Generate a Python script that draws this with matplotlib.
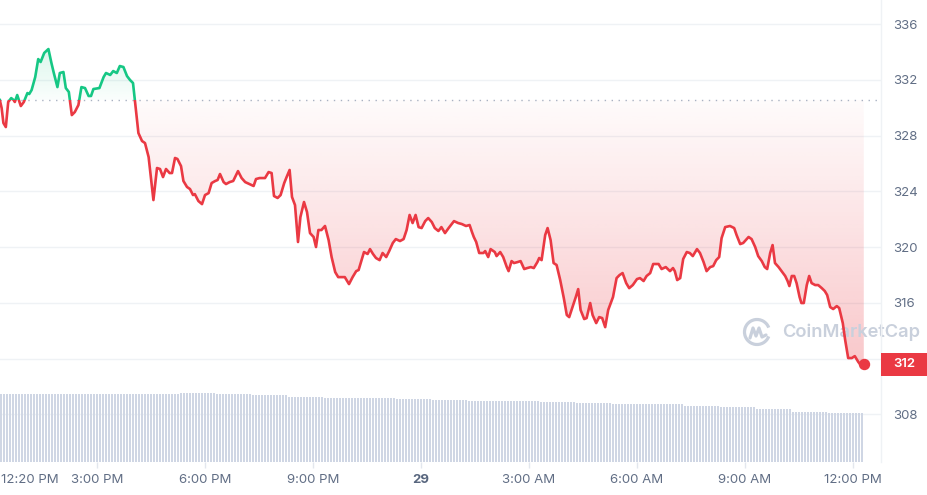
import numpy as np
import matplotlib
matplotlib.use("Agg")
import matplotlib.pyplot as plt
from matplotlib.path import Path
from matplotlib.patches import Rectangle, Arc, PathPatch
from matplotlib.transforms import blended_transform_factory
from matplotlib.colors import to_rgb
from matplotlib.lines import Line2D

plt.rcParams['font.family'] = ['Inter', 'DejaVu Sans']

# ---------------- data ----------------
# minutes since 12:00 PM (day 28)
times_min = [
    18, 21, 24, 28, 32, 37, 41, 43, 47, 53, 58, 64, 67, 71, 77, 82, 86, 92, 99, 104,
    108, 114, 118, 124, 128, 133, 138, 143, 149, 154, 160, 166, 170, 174, 184, 191, 195, 202, 207, 213,
    218, 224, 230, 235, 240, 243, 249, 255, 260,
    266, 274, 280, 285, 290, 295, 301, 305, 310, 314, 320, 324, 330, 335, 340, 343, 349, 355, 360, 366,
    371, 377, 381, 385, 391, 395, 401, 407, 415, 421, 427, 434, 441, 445, 451, 460, 466, 471, 475, 481,
    486, 492, 496, 501, 505, 510,
    515, 519, 525, 530, 535, 541, 545, 549, 554, 560, 566, 571, 577, 582, 593, 600, 606, 612, 616, 621,
    625, 631, 635, 640, 645, 651, 656, 662, 667, 673, 678, 685, 691, 696, 701, 706, 711, 716, 721, 727,
    732, 738, 743, 749, 754, 760,
    766, 775, 782, 788, 795, 801, 805, 808, 812, 817, 824, 827, 832, 836, 843, 846, 852, 857, 863, 866,
    871, 875, 881, 886, 892, 897, 903, 908, 914, 917, 921, 927, 931, 936, 941, 946, 952, 958, 963, 967,
    973, 978, 982, 986, 992, 996, 1002, 1006, 1012,
    1017, 1022, 1027, 1032, 1040, 1046, 1051, 1056, 1062, 1067, 1073, 1080, 1085, 1091, 1096, 1102, 1107, 1116, 1121, 1128,
    1135, 1140, 1143, 1147, 1152, 1157, 1163, 1168, 1173, 1180, 1185, 1191, 1196, 1202, 1207, 1212, 1217, 1221, 1227, 1235,
    1242, 1246, 1252, 1257,
    1266, 1271, 1277, 1282, 1288, 1293, 1297, 1302, 1306, 1310, 1316, 1321, 1327, 1331, 1334, 1338, 1342, 1346, 1351, 1354,
    1358, 1363, 1367, 1371, 1377, 1382, 1388, 1393, 1397, 1402, 1407, 1413, 1417, 1423, 1427, 1432, 1438, 1443, 1449, 1453,
    1458,
]
prices = [
    330.56, 329.99, 328.91, 328.62, 330.42, 330.70, 330.56, 330.42, 330.92, 330.13, 330.42, 331.06, 330.99, 331.28, 332.21, 333.50, 333.29, 333.94, 334.22, 333.22,
    332.50, 331.49, 332.50, 332.57, 331.42, 331.14, 329.48, 329.70, 330.20, 331.49, 331.42, 330.85, 330.85, 331.35, 331.42, 332.21, 332.50, 332.36, 332.64, 332.50,
    333.00, 332.93, 332.28, 332.00, 331.78, 330.56, 328.19, 327.62, 327.47,
    326.47, 323.38, 325.68, 325.61, 325.03, 325.61, 325.32, 325.32, 326.40, 326.33, 325.82, 324.75, 324.32, 324.17, 323.74, 323.81, 323.31, 323.09, 323.74, 323.88,
    324.60, 324.75, 324.82, 325.25, 324.67, 324.53, 324.67, 324.75, 325.46, 324.96, 324.67, 324.53, 324.39, 324.89, 324.96, 324.96, 325.39, 325.32, 323.67, 323.53,
    323.74, 324.60, 325.03, 325.54, 323.60, 323.02,
    320.37, 322.16, 323.24, 322.52, 321.01, 320.73, 320.01, 321.23, 321.23, 321.52, 320.51, 319.29, 318.21, 317.85, 317.85, 317.35, 317.85, 318.28, 318.36, 319.07,
    319.65, 319.51, 319.86, 319.51, 319.22, 319.07, 319.58, 319.29, 319.72, 320.30, 320.58, 320.44, 320.58, 321.23, 322.31, 321.73, 322.31, 321.44, 321.37, 321.87,
    322.09, 321.80, 321.37, 321.16, 321.44, 321.01,
    321.37, 321.87, 321.73, 321.66, 321.52, 321.59, 321.08, 320.73, 320.37, 319.58, 319.58, 319.72, 319.29, 319.86, 319.65, 319.36, 319.65, 319.29, 318.57, 318.28,
    319.00, 318.86, 318.93, 319.00, 318.43, 318.50, 318.57, 318.50, 318.93, 319.22, 319.07, 320.87, 321.37, 320.51, 318.86, 318.72, 317.64, 316.35, 315.13, 314.98,
    315.77, 316.42, 316.99, 315.49, 314.84, 314.91, 315.99, 315.13, 314.55,
    314.98, 314.91, 314.26, 315.49, 316.42, 317.78, 318.00, 318.14, 317.42, 317.06, 317.28, 317.71, 317.78, 317.57, 317.93, 318.14, 318.79, 318.79, 318.43, 318.57,
    318.28, 318.50, 318.28, 317.64, 317.78, 319.15, 319.65, 319.58, 319.36, 319.86, 319.58, 318.93, 318.28, 318.57, 318.64, 319.07, 319.29, 320.65, 321.44, 321.52,
    321.37, 320.87, 320.22, 320.30,
    320.73, 320.58, 320.01, 319.36, 319.00, 318.57, 318.43, 319.58, 320.15, 318.86, 318.57, 318.28, 317.93, 317.57, 317.21, 317.93, 317.93, 317.42, 316.42, 315.99,
    315.99, 317.28, 317.93, 317.42, 317.28, 317.28, 317.06, 316.85, 316.56, 315.70, 315.56, 315.77, 315.63, 314.55, 313.33, 312.04, 312.04, 312.18, 311.75, 311.54,
    311.61,
]
# relative trading volume, one reading per hour (bars every 5 minutes)
volume_hourly = [67.7, 68.0, 68.0, 68.0, 68.5, 69.0, 68.5, 67.5, 65.3, 64.5, 63.7, 63.0,
                 62.3, 61.5, 60.8, 60.0, 59.2, 58.0, 57.7, 56.5, 55.5, 52.8, 50.5, 49.3]
bar_minutes = np.arange(len(volume_hourly) * 12) * 5 + 20.5

y_ticks = [308, 312, 316, 320, 324, 328, 332, 336]
x_tick_pos = [20, 180, 360, 540, 720, 900, 1080, 1260, 1440]
x_tick_labels = ["12:20 PM", "3:00 PM", "6:00 PM", "9:00 PM", "29", "3:00 AM", "6:00 AM", "9:00 AM", "12:00 PM"]

# ---------------- style ----------------
GREEN = "#16c784"
RED = "#ea3943"
GRID = "#eff2f5"
LABEL = "#616e85"
VOLC = "#cfd6e4"

W, H = 928, 495
PR, PB = 881, 462  # plot right / bottom in px
fig = plt.figure(figsize=(W / 100, H / 100), dpi=100)
rect = [0, 1 - PB / H, PR / W, PB / H]
ax = fig.add_axes(rect)
ax_vol = fig.add_axes(rect)
ax_vol.patch.set_visible(False)
ax_vol.set_axis_off()

t = np.array(times_min, float)
p = np.array(prices, float)
ref = prices[0]
XMIN, XMAX = 18.3, 1486.7
YMIN, YMAX = 304.58, 337.74


def gradient_fill(above, color, a_near, a_far):
    if above:
        coll = ax.fill_between(t, p, ref, where=p >= ref, interpolate=True,
                               facecolor="none", edgecolor="none")
        y0, y1 = ref, p.max()
    else:
        coll = ax.fill_between(t, p, ref, where=p <= ref, interpolate=True,
                               facecolor="none", edgecolor="none")
        y0, y1 = p.min(), ref
    clip = Path.make_compound_path(*coll.get_paths())
    n = 256
    img = np.zeros((n, 2, 4))
    img[..., :3] = to_rgb(color)
    if above:
        a = np.linspace(a_near, a_far, n)
    else:
        a = np.linspace(a_far, a_near, n)
    img[..., 3] = a[:, None]
    im = ax.imshow(img, extent=[t[0], t[-1], y0, y1], origin="lower", aspect="auto",
                   zorder=1, interpolation="bilinear")
    im.set_clip_path(PathPatch(clip, transform=ax.transData))


gradient_fill(True, GREEN, 0.02, 0.15)
gradient_fill(False, RED, 0.02, 0.28)

# reference dotted line
ax.axhline(ref, color="#a9b2c2", lw=1.0, ls=(0, (1, 4)), zorder=3)

# price line, green above reference / red below
clip_above = Rectangle((XMIN - 500, ref), 3000, 100, transform=ax.transData)
clip_below = Rectangle((XMIN - 500, ref - 100), 3000, 100, transform=ax.transData)
lg, = ax.plot(t, p, color=GREEN, lw=1.9, zorder=4, solid_joinstyle="round")
lg.set_clip_path(clip_above)
lr, = ax.plot(t, p, color=RED, lw=1.9, zorder=4, solid_joinstyle="round")
lr.set_clip_path(clip_below)
ax.plot([t[-1]], [p[-1]], "o", color=RED, ms=7.2, zorder=5, clip_on=False)

ax.set_xlim(XMIN, XMAX)
ax.set_ylim(YMIN, YMAX)

# volume bars
vol = np.repeat(volume_hourly, 12)
ax_vol.bar(bar_minutes, vol, width=3.4, color=VOLC, linewidth=0)
ax_vol.set_xlim(XMIN, XMAX)
ax_vol.set_ylim(0, PB)

# axes styling
for s in ["top", "left", "bottom"]:
    ax.spines[s].set_visible(False)
ax.spines["right"].set_color(GRID)
ax.spines["right"].set_linewidth(1.0)
ax.yaxis.tick_right()
ax.set_yticks(y_ticks)
# the 312 label sits under the current-price badge, so it is not shown
ax.set_yticklabels(["" if v == 312 else str(v) for v in y_ticks])
ax.tick_params(axis="y", length=0, pad=8.6, labelcolor=LABEL, labelsize=9.5)
ax.grid(axis="y", color=GRID, lw=1.0, zorder=0)
ax.set_axisbelow(True)
ax.set_xticks(x_tick_pos[1:])
ax.set_xticklabels([])
ax.tick_params(axis="x", length=4, width=1, color="#e3e7ee", direction="out")

# x labels (clipped at the plot's right edge like the reference)
xtr = blended_transform_factory(ax.transData, ax.transAxes)
fig_clip = Rectangle((0, 0), PR / W, 1, transform=fig.transFigure)
for pos, lab in zip(x_tick_pos, x_tick_labels):
    bold = lab == "29"
    txt = ax.text(pos, -18 / PB, lab, transform=xtr, ha="left" if pos == x_tick_pos[0] else "center",
                  va="center", fontsize=9.5, color="#58667e" if bold else LABEL,
                  fontweight="bold" if bold else "normal", clip_on=True)
    txt.set_clip_path(fig_clip)

# price badge
btr = blended_transform_factory(ax.transAxes, ax.transData)
bh = 23 / (PB / (YMAX - YMIN))
badge = Rectangle((1.0, p[-1] - bh / 2), 46 / PR, bh, transform=btr, facecolor=RED,
                  edgecolor="none", clip_on=False, zorder=6)
ax.add_patch(badge)
ax.text(1.0 + 23 / PR, p[-1], "312", transform=btr, ha="center", va="center",
        color="white", fontsize=9.5, fontweight="semibold", zorder=7)

# watermark
WM = "#c9d0dc"
cx, cy, r = 757, 332, 12.5
ax.add_patch(Arc((cx / W, 1 - cy / H), 2 * r / W, 2 * r / H, theta1=35, theta2=325,
                 transform=fig.transFigure, color=WM, lw=2.3, zorder=2, clip_on=False))
wave = [(-7, 6), (-4, -4), (-1, 4), (2, -4), (5, 5), (9, 3)]
ax.add_line(Line2D([(cx + dx) / W for dx, dy in wave], [1 - (cy + dy) / H for dx, dy in wave],
                   transform=fig.transFigure, color=WM, lw=2.3, zorder=2,
                   solid_joinstyle="round", solid_capstyle="round", clip_on=False))
ax.text(782 / W, 1 - cy / H, "CoinMarketCap", transform=fig.transFigure, ha="left", va="center",
        fontsize=13.2, fontweight="semibold", color=WM, zorder=2)

fig.savefig("out.png", dpi=100)
